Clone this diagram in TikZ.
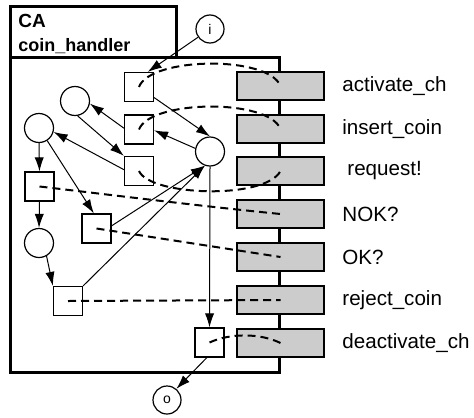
\documentclass[tikz,border=0pt]{standalone}
\usepackage{fontspec}
\setmainfont{Liberation Sans}
\usetikzlibrary{arrows.meta}

\begin{document}
\begin{tikzpicture}[x=0.5pt,y=-0.5pt,
	place/.style={circle,draw,line width=0.6pt,minimum size=14.5pt,inner sep=0pt,fill=white},
	trans/.style={rectangle,draw,line width=0.6pt,minimum size=14.5pt,inner sep=0pt,fill=white},
	port/.style={circle,draw,line width=0.6pt,minimum size=14pt,inner sep=0pt,font=\fontsize{7}{8}\selectfont},
	chan/.style={rectangle,draw,line width=1.1pt,fill=black!20,minimum width=43.5pt,minimum height=14pt,inner sep=0pt},
	lbl/.style={anchor=west,inner sep=0pt,font=\fontsize{10.3}{12}\selectfont},
	flow/.style={-{Latex[length=7pt,width=4.6pt]},line width=0.5pt},
	sync/.style={line width=1pt,dash pattern=on 4pt off 2.5pt}]
		\useasboundingbox (0,0) rectangle (474,417);

		% frame of the component
		\draw [line width=1.5pt] (10,7) rectangle (176,58);
		\draw [line width=1.5pt] (10,58) rectangle (279,372);
		\node [anchor=west,inner sep=0pt,font=\bfseries\fontsize{9.5}{10}\selectfont] (name) at (18,21) {CA};
		\node [anchor=west,inner sep=0pt,font=\bfseries\fontsize{9}{10}\selectfont] (type) at (18,46) {coin\_handler};

		% interface
		\node [chan] (g1) at (280.5,86) {};
		\node [chan] (g2) at (280.5,129) {};
		\node [chan] (g3) at (280.5,171) {};
		\node [chan] (g4) at (280.5,214) {};
		\node [chan] (g5) at (280.5,257) {};
		\node [chan] (g6) at (280.5,300) {};
		\node [chan] (g7) at (280.5,343) {};
		\node [lbl] (l1) at (342,86) {activate\_ch};
		\node [lbl] (l2) at (342,129) {insert\_coin};
		\node [lbl] (l3) at (347,171) {request!};
		\node [lbl] (l4) at (342,214) {NOK?};
		\node [lbl] (l5) at (342,257) {OK?};
		\node [lbl] (l6) at (342,300) {reject\_coin};
		\node [lbl] (l7) at (342,343) {deactivate\_ch};

		% net
		\node [port] (pi) at (210,29) {i};
		\node [port] (po) at (167,400) {o};
		\node [place] (p1) at (75,101) {};
		\node [place] (p2) at (39,128) {};
		\node [place] (p3) at (210,151.5) {};
		\node [place] (p4) at (39,243) {};
		\node [trans] (t1) at (139,87) {};
		\node [trans] (t2) at (139,129.5) {};
		\node [trans] (t3) at (139,171) {};
		\node [trans] (t4) at (39.5,186.5) {};
		\node [trans] (t5) at (96.5,228.5) {};
		\node [trans] (t6) at (68,301) {};
		\node [trans] (t7) at (209.5,342.5) {};

		\draw [flow] (pi) -- (t1.60);
		\draw [flow] (t1.-35) -- (p3.north);
		\draw [flow] (p3.168) -- (t2.-3);
		\draw [flow] (t2.175) -- (p1.-10);
		\draw [flow] (p1.-80) -- (t3.north west);
		\draw [flow] (t3.175) -- (p2.-15);
		\draw [flow] (p2.south) -- (t4.north);
		\draw [flow] (p2.-57) -- (t5.100);
		\draw [flow] (t4.south) -- (p4.north);
		\draw [flow] (p4.-60) -- (t6.north west);
		\draw [flow] (t5.10) -- (p3.-110);
		\draw [flow] (t6.north east) -- (p3.-110);
		\draw [flow] (p3.south) -- (t7.north);
		\draw [flow] (t7.-100) -- (po.50);

		% links to the interface
		\draw [sync] (t1.center) .. controls (150,57) and (268,55) .. (g1.center);
		\draw [sync] (t2.center) .. controls (150,100) and (268,98) .. (g2.center);
		\draw [sync] (t3.center) .. controls (150,196) and (265,200) .. (g3.center);
		\draw [sync] (t4.center) .. controls (120,196) and (200,206) .. (g4.center);
		\draw [sync] (t5.center) -- (g5.center);
		\draw [sync] (t6.center) -- (g6.center);
		\draw [sync] (t7.center) .. controls (230,333) and (260,333) .. (g7.center);
	\end{tikzpicture}
\end{document}
